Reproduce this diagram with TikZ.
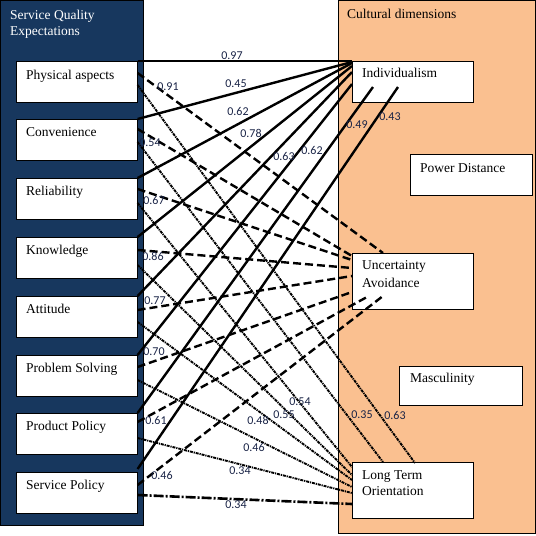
\documentclass[tikz,border=0pt]{standalone}
\usepackage{fontspec}
\setmainfont{Liberation Serif}
\newfontfamily\numfont{Carlito}
\usepackage{xcolor}
\definecolor{sqnavy}{RGB}{23,55,94}
\definecolor{cdorange}{RGB}{250,192,144}
\definecolor{valblue}{RGB}{25,35,70}

\begin{document}
\begin{tikzpicture}[x=1pt,y=-1pt,
    box/.style={shape=rectangle, draw, fill=white, line width=0.6pt, minimum width=121pt, minimum height=41pt, anchor=north west, inner sep=0pt},
    boxtext/.style={anchor=base west, inner sep=0pt, align=left, font=\fontsize{13.5}{17}\selectfont},
    val/.style={inner sep=0pt, text=valblue, font=\numfont\fontsize{12}{12}\selectfont},
    toind/.style={line width=2.4pt},
    toua/.style={line width=2.4pt, dash pattern=on 8pt off 4pt},
    tolto/.style={line width=1.9pt, dash pattern=on 3pt off 0.9pt on 1.2pt off 0.9pt}]
    \useasboundingbox (0,0) rectangle (536,536);

    % panels
    \draw[fill=sqnavy, line width=0.6pt] (0.5,0.5) rectangle (143.5,525.5);
    \draw[fill=cdorange, line width=0.6pt] (338,0.5) rectangle (535,533);

    % service quality expectations
    \node[box] (phys) at (16,61) {};
    \node[box] (conv) at (16,119) {};
    \node[box] (rel) at (16,178) {};
    \node[box] (know) at (16,237) {};
    \node[box] (att) at (16,296) {};
    \node[box] (prob) at (16,355) {};
    \node[box] (prod) at (16,413) {};
    \node[box] (serv) at (16,472) {};

    % cultural dimensions
    \node[box] (indiv) at (352,61) {};
    \node[box, minimum width=122pt] (pdist) at (410,154) {};
    \node[box, minimum height=56pt] (uavoid) at (352,253) {};
    \node[box, minimum width=123pt, minimum height=39pt] (masc) at (399,366) {};
    \node[box, minimum height=56pt] (ltorient) at (352,462) {};

    % to individualism
    \draw[toind] (phys.north east) -- (indiv.north west);
    \draw[toind] (conv.north east) -- ([yshift=-1pt]indiv.north west);
    \draw[toind] (rel.north east) -- ([yshift=-2pt]indiv.north west);
    \draw[toind] (know.north east) -- ([yshift=-5pt]indiv.north west);
    \draw[toind] (att.north east) -- ([yshift=-11pt]indiv.north west);
    \draw[toind] (prob.north east) -- ([yshift=-23pt]indiv.north west);
    \draw[toind] (prod.north east) -- ([xshift=21pt,yshift=-26pt]indiv.north west);
    \draw[toind] ([yshift=3pt]serv.north east) -- ([xshift=46pt,yshift=-26pt]indiv.north west);

    % to uncertainty avoidance
    \draw[toua] ([yshift=-12pt]phys.north east) -- ([xshift=31pt]uavoid.north west);
    \draw[toua] ([yshift=-10pt]conv.north east) -- ([yshift=-3pt]uavoid.north west);
    \draw[toua] ([yshift=-11pt]rel.north east) -- ([yshift=-7pt]uavoid.north west);
    \draw[toua] ([yshift=-13pt]know.north east) -- ([yshift=-15pt]uavoid.north west);
    \draw[toua] ([yshift=-14pt]att.north east) -- ([yshift=-23pt]uavoid.north west);
    \draw[toua] ([yshift=-12pt]prob.north east) -- ([yshift=-39pt]uavoid.north west);
    \draw[toua] ([yshift=-9pt]prod.north east) -- ([xshift=15pt,yshift=-44pt]uavoid.north west);
    \draw[toua] ([yshift=-13pt]serv.north east) -- ([xshift=31pt,yshift=-43pt]uavoid.north west);

    % to long term orientation
    \draw[tolto] ([yshift=-24pt]phys.north east) -- ([xshift=63pt,yshift=-1pt]ltorient.north west);
    \draw[tolto] ([yshift=-23pt]conv.north east) -- ([xshift=31pt]ltorient.north west);
    \draw[tolto] ([yshift=-25pt]rel.north east) -- ([yshift=-5pt]ltorient.north west);
    \draw[tolto] ([yshift=-28pt]know.north east) -- ([yshift=-13pt]ltorient.north west);
    \draw[tolto] ([yshift=-26pt]att.north east) -- ([yshift=-18pt]ltorient.north west);
    \draw[tolto] ([yshift=-25pt]prob.north east) -- ([yshift=-25pt]ltorient.north west);
    \draw[tolto] ([yshift=-25pt]prod.north east) -- ([yshift=-31pt]ltorient.north west);
    \draw[tolto, line width=2.6pt, dash pattern=on 10pt off 2pt on 2pt off 2pt] ([yshift=-23pt]serv.north east) -- ([yshift=-42pt]ltorient.north west);

    % titles and box texts
    \node[boxtext, text=white, font=\fontsize{13.5}{16}\selectfont] (sqtitle) at (10,35) {Service Quality\\Expectations};
    \node[boxtext] (cdtitle) at (347,18) {Cultural dimensions};
    \node[boxtext] (physT) at ([xshift=10pt,yshift=-18pt]phys.north west) {Physical aspects};
    \node[boxtext] (convT) at ([xshift=10pt,yshift=-17pt]conv.north west) {Convenience};
    \node[boxtext] (relT) at ([xshift=10pt,yshift=-17pt]rel.north west) {Reliability};
    \node[boxtext] (knowT) at ([xshift=10pt,yshift=-17pt]know.north west) {Knowledge};
    \node[boxtext] (attT) at ([xshift=10pt,yshift=-17pt]att.north west) {Attitude};
    \node[boxtext] (probT) at ([xshift=10pt,yshift=-17pt]prob.north west) {Problem Solving};
    \node[boxtext] (prodT) at ([xshift=10pt,yshift=-17pt]prod.north west) {Product Policy};
    \node[boxtext] (servT) at ([xshift=10pt,yshift=-17pt]serv.north west) {Service Policy};
    \node[boxtext] (indivT) at ([xshift=10pt,yshift=-16pt]indiv.north west) {Individualism};
    \node[boxtext] (pdistT) at ([xshift=10pt,yshift=-18pt]pdist.north west) {Power Distance};
    \node[boxtext, font=\fontsize{13.5}{18}\selectfont] (uavoidT) at ([xshift=10pt,yshift=-34pt]uavoid.north west) {Uncertainty\\Avoidance};
    \node[boxtext] (mascT) at ([xshift=11pt,yshift=-16pt]masc.north west) {Masculinity};
    \node[boxtext, font=\fontsize{13.5}{16}\selectfont] (ltorientT) at ([xshift=10pt,yshift=-33pt]ltorient.north west) {Long Term\\Orientation};

    % coefficients
    \node[val] (v01) at (232,56) {0.97};
    \node[val] (v02) at (168,87) {0.91};
    \node[val] (v03) at (236,84) {0.45};
    \node[val] (v04) at (238,111) {0.62};
    \node[val] (v05) at (150,143) {0.54};
    \node[val] (v06) at (251,133) {0.78};
    \node[val] (v07) at (284,156) {0.63};
    \node[val] (v08) at (312,150) {0.62};
    \node[val] (v09) at (357,125) {0.49};
    \node[val] (v10) at (390,117) {0.43};
    \node[val] (v11) at (154,200) {0.67};
    \node[val] (v12) at (153,256) {0.86};
    \node[val] (v13) at (155,301) {0.77};
    \node[val] (v14) at (154,352) {0.70};
    \node[val] (v15) at (156,420) {0.61};
    \node[val] (v16) at (162,475) {0.46};
    \node[val] (v17) at (300,402) {0.54};
    \node[val] (v18) at (284,415) {0.55};
    \node[val] (v19) at (258,420) {0.48};
    \node[val] (v20) at (254,447) {0.46};
    \node[val] (v21) at (240,471) {0.34};
    \node[val] (v22) at (236,505) {0.34};
    \node[val] (v23) at (362,415) {0.35};
    \node[val] (v24) at (395,415) {0.63};
  \end{tikzpicture}
\end{document}
